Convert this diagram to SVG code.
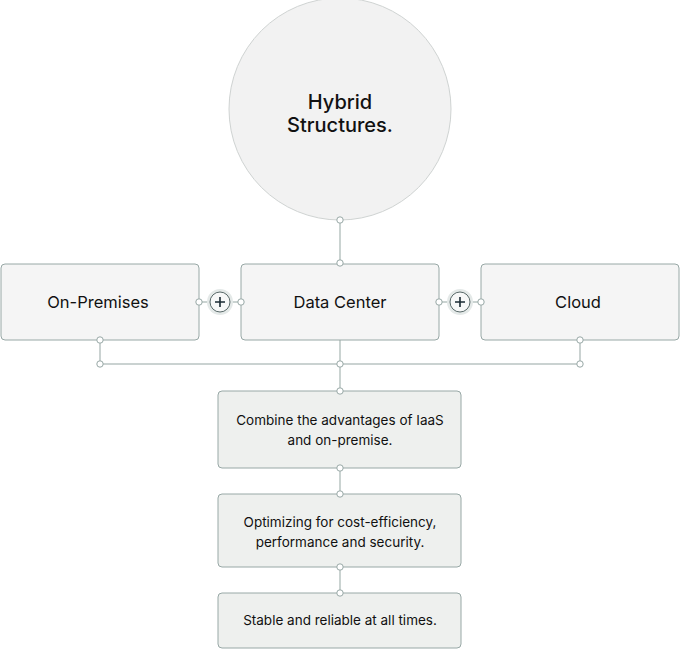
<svg xmlns="http://www.w3.org/2000/svg" width="680" height="649" viewBox="0 0 680 649">
<style>
.bg{fill:#ffffff}
.top{fill:#f5f5f5;stroke:#98a8a6;stroke-width:1}
.low{fill:#eef0ee;stroke:#98a8a6;stroke-width:1}
.hub{fill:#f2f2f2;stroke:#cfd3d2;stroke-width:1}
.ln{fill:none;stroke:#b9c4c2;stroke-width:1.5}
.dot{fill:#ffffff;stroke:#98a8a6;stroke-width:1}
.halo{fill:#e4e9e8}
.plus{fill:#f7f8f8;stroke:#5a6a6a;stroke-width:1}
.pm{stroke:#1a2a33;stroke-width:1.6;fill:none}
text{font-family:Inter,"Noto Sans","Liberation Sans",sans-serif;fill:#111;text-anchor:middle}
.t1{font-size:20px;font-weight:500}
.t2{font-size:16.5px}
.t3{font-size:13.5px}
</style>
<rect class="bg" x="0" y="0" width="680" height="649"/>
<g id="connectors">
<line class="ln" x1="340" y1="220" x2="340" y2="263"/>
<line class="ln" x1="199" y1="302" x2="241" y2="302"/>
<line class="ln" x1="439" y1="302" x2="481" y2="302"/>
<polyline class="ln" points="100,340 100,364 580,364 580,340"/>
<line class="ln" x1="340" y1="340" x2="340" y2="391"/>
<line class="ln" x1="340" y1="468" x2="340" y2="494"/>
<line class="ln" x1="340" y1="567" x2="340" y2="593"/>
</g>
<g id="hub">
<circle class="hub" cx="340" cy="109" r="111"/>
<text class="t1" x="340" y="109">Hybrid</text>
<text class="t1" x="340" y="132">Structures.</text>
</g>
<g id="on-premises">
<rect class="top" x="1" y="264" width="198" height="76" rx="4"/>
<text class="t2" x="98" y="308">On-Premises</text>
</g>
<g id="data-center">
<rect class="top" x="241" y="264" width="198" height="76" rx="4"/>
<text class="t2" x="340" y="308">Data Center</text>
</g>
<g id="cloud">
<rect class="top" x="481" y="264" width="198" height="76" rx="4"/>
<text class="t2" x="578" y="308">Cloud</text>
</g>
<g id="plus-1">
<circle class="halo" cx="220" cy="302" r="13"/>
<circle class="plus" cx="220" cy="302" r="10"/>
<path class="pm" d="M215 302H225M220 297V307"/>
</g>
<g id="plus-2">
<circle class="halo" cx="460" cy="302" r="13"/>
<circle class="plus" cx="460" cy="302" r="10"/>
<path class="pm" d="M455 302H465M460 297V307"/>
</g>
<g id="benefit-1">
<rect class="low" x="218" y="391" width="243" height="77" rx="4"/>
<text class="t3" x="340" y="425">Combine the advantages of IaaS</text>
<text class="t3" x="340" y="445">and on-premise.</text>
</g>
<g id="benefit-2">
<rect class="low" x="218" y="494" width="243" height="73" rx="4"/>
<text class="t3" x="340" y="527">Optimizing for cost-efficiency,</text>
<text class="t3" x="340" y="547">performance and security.</text>
</g>
<g id="benefit-3">
<rect class="low" x="218" y="593" width="243" height="55" rx="4"/>
<text class="t3" x="340" y="625">Stable and reliable at all times.</text>
</g>
<g id="dots">
<circle class="dot" cx="340" cy="220" r="3.2"/>
<circle class="dot" cx="340" cy="263" r="3.2"/>
<circle class="dot" cx="199" cy="302" r="3.2"/>
<circle class="dot" cx="241" cy="302" r="3.2"/>
<circle class="dot" cx="439" cy="302" r="3.2"/>
<circle class="dot" cx="481" cy="302" r="3.2"/>
<circle class="dot" cx="100" cy="340" r="3.2"/>
<circle class="dot" cx="100" cy="364" r="3.2"/>
<circle class="dot" cx="580" cy="340" r="3.2"/>
<circle class="dot" cx="580" cy="364" r="3.2"/>
<circle class="dot" cx="340" cy="364" r="3.2"/>
<circle class="dot" cx="340" cy="391" r="3.2"/>
<circle class="dot" cx="340" cy="468" r="3.2"/>
<circle class="dot" cx="340" cy="494" r="3.2"/>
<circle class="dot" cx="340" cy="567" r="3.2"/>
<circle class="dot" cx="340" cy="593" r="3.2"/>
</g>
</svg>
